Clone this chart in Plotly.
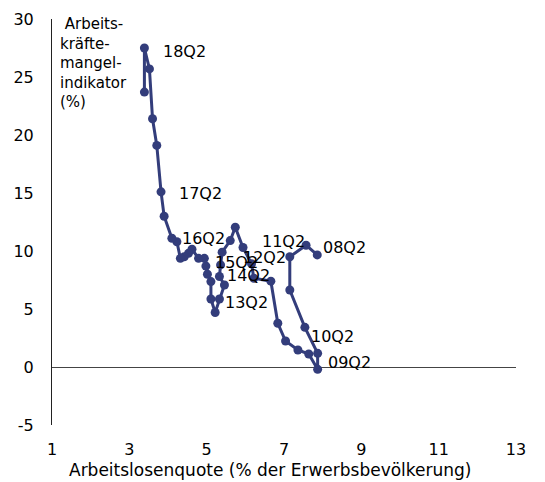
import plotly.graph_objects as go

# Path of quarterly observations (08Q2 ... 18Q3)
unemployment = [7.86, 7.57, 7.15, 7.15, 7.54, 7.87, 7.87, 7.64, 7.36, 7.04, 6.84,
                6.66, 6.22, 6.16, 5.94, 5.74, 5.61, 5.40, 5.36, 5.33, 5.46, 5.33,
                5.22, 5.11, 5.11, 5.02, 4.98, 4.94, 4.79, 4.62, 4.53, 4.42, 4.32,
                4.23, 4.10, 3.90, 3.82, 3.71, 3.60, 3.52, 3.39, 3.39]
shortage = [9.66, 10.5, 9.5, 6.64, 3.42, 1.18, -0.2, 1.12, 1.47, 2.24, 3.77,
            7.4, 7.65, 8.9, 10.3, 12.05, 10.9, 9.9, 8.8, 7.8, 7.07, 5.86,
            4.7, 5.86, 7.36, 8.0, 8.7, 9.37, 9.37, 10.15, 9.8, 9.5, 9.37,
            10.8, 11.1, 13.0, 15.1, 19.1, 21.4, 25.7, 27.5, 23.7]

# Quarter labels and where their text sits (data coordinates)
label_text = ["18Q2", "17Q2", "16Q2", "15Q2", "12Q2", "14Q2", "13Q2", "11Q2", "08Q2", "10Q2", "09Q2"]
label_x = [3.88, 4.29, 4.37, 5.22, 5.95, 5.53, 5.48, 6.44, 8.02, 7.71, 8.15]
label_y = [27.2, 15.0, 11.1, 9.05, 9.4, 7.93, 5.6, 10.8, 10.26, 2.67, 0.43]

x_ticks = [1, 3, 5, 7, 9, 11, 13]
y_ticks = [-5, 0, 5, 10, 15, 20, 25, 30]
y_tick_text = ["-5", "0", "5", "10", "15", "20", "25", "30"]

color = "#333d7b"
font = "DejaVu Sans, Arial, sans-serif"

fig = go.Figure()
fig.add_trace(go.Scatter(
    x=unemployment, y=shortage, mode="lines+markers",
    line=dict(color=color, width=3),
    marker=dict(color=color, size=9),
    hoverinfo="skip", showlegend=False,
))

for t, lx, ly in zip(label_text, label_x, label_y):
    fig.add_annotation(x=lx, y=ly, text=t, showarrow=False, xanchor="left",
                       yanchor="middle", xshift=-2,
                       font=dict(size=16, color="black", family=font))

fig.add_annotation(xref="paper", yref="paper", x=(58 - 52) / 464, y=1.014,
                   text=" Arbeits-<br>kräfte-<br>mangel-<br>indikator<br>(%)",
                   showarrow=False, xanchor="left", yanchor="top", align="left",
                   font=dict(size=15, color="black", family=font))

fig.add_annotation(xref="paper", yref="paper", x=(270 - 52) / 464, y=-0.111,
                   text="Arbeitslosenquote (% der Erwerbsbevölkerung)",
                   showarrow=False, xanchor="center", yanchor="middle",
                   font=dict(size=17, color="black", family=font))

fig.update_layout(
    width=545, height=482,
    margin=dict(l=52, r=29, t=19, b=57),
    paper_bgcolor="white", plot_bgcolor="white",
    font=dict(family=font, size=16, color="black"),
    xaxis=dict(range=[1, 13], tickvals=x_ticks, showgrid=False, zeroline=False,
               showline=False, ticks="outside", ticklen=10, tickcolor="rgba(0,0,0,0)",
               automargin=False),
    yaxis=dict(range=[-5, 30], tickvals=y_ticks, ticktext=y_tick_text,
               showgrid=False, zeroline=True,
               zerolinecolor="#444444", zerolinewidth=1, showline=True,
               linecolor="#222222", linewidth=1, ticks="outside", ticklen=14,
               tickcolor="rgba(0,0,0,0)", automargin=False),
)

fig.write_html("out.html", config={"displayModeBar": False},
               post_script="document.body.style.margin='0';document.body.style.overflow='hidden';")
